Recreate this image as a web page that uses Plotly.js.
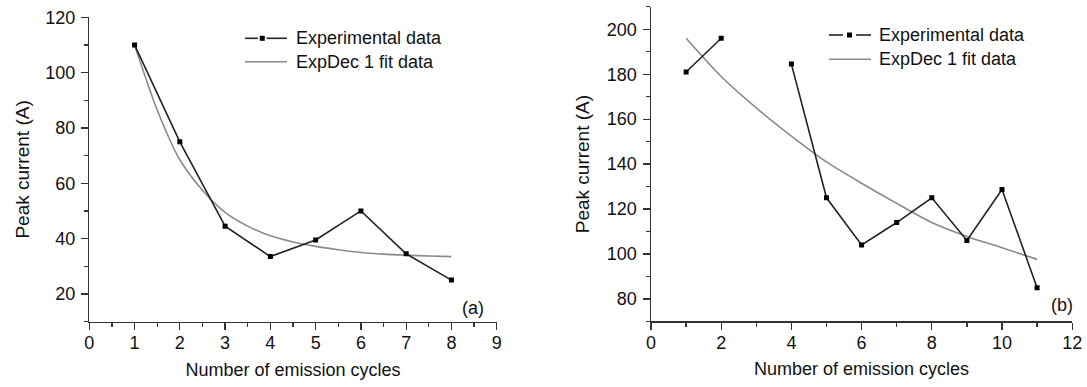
<!DOCTYPE html>
<html>
<head>
<meta charset="utf-8">
<script src="https://cdn.plot.ly/plotly-3.0.1.min.js"></script>
<style>html,body{margin:0;padding:0;background:#fff;}#chart{width:1087px;height:387px;}</style>
</head>
<body>
<div id="chart"></div>
<script>
// Panel (a)
const cyclesA = [1, 2, 3, 4, 5, 6, 7, 8];
const expA = [110, 75, 44.5, 33.5, 39.5, 50, 34.5, 25];
const fitXA = [1, 1.5, 2, 2.5, 3, 3.5, 4, 4.5, 5, 5.5, 6, 6.5, 7, 7.5, 8];
const fitA = [110, 86.5, 68.5, 57.5, 49.5, 44.5, 41, 38.8, 37.2, 36, 35, 34.4, 34, 33.7, 33.5];

// Panel (b)
const cyclesB = [1, 2, 3, 4, 5, 6, 7, 8, 9, 10, 11];
const expB = [181, 196, null, 184.5, 125, 104, 114, 125, 106, 128.7, 85];
const fitXB = [1, 2, 3, 4, 5, 6, 7, 8, 9, 10, 11];
const fitB = [196, 179, 165, 152.5, 141, 131.5, 122.5, 114, 107.8, 102.8, 97.6];

const seriesNames = ["Experimental data", "ExpDec 1 fit data"];
const panelLabels = ["(a)", "(b)"];
const xTitle = "Number of emission cycles";
const yTitle = "Peak current (A)";

const FONT = "Liberation Sans, Arial, Helvetica, sans-serif";
const TXT = "#111111";
const EXP_COLOR = "#222222";
const FIT_COLOR = "#8a8a8a";
const expStyle = {color: EXP_COLOR, width: 1.6};
const fitStyle = {color: FIT_COLOR, width: 1.6};
const mk = {symbol: "square", size: 5, color: "#000000"};

const traces = [
  {x: fitXA, y: fitA, type: "scatter", mode: "lines", name: seriesNames[1], line: Object.assign({shape: "spline", smoothing: 0.8}, fitStyle), xaxis: "x", yaxis: "y"},
  {x: cyclesA, y: expA, type: "scatter", mode: "lines+markers", name: seriesNames[0], line: expStyle, marker: mk, xaxis: "x", yaxis: "y"},
  {x: fitXB, y: fitB, type: "scatter", mode: "lines", name: seriesNames[1], line: Object.assign({shape: "spline", smoothing: 0.8}, fitStyle), xaxis: "x2", yaxis: "y2"},
  {x: cyclesB, y: expB, type: "scatter", mode: "lines+markers", name: seriesNames[0], line: expStyle, marker: mk, connectgaps: false, xaxis: "x2", yaxis: "y2"}
];

const W = 1087, H = 387;
const px = v => v / W;
const py = v => 1 - v / H;

function xAx(domain, range, dtick, minorDtick, anchor) {
  return {
    domain: domain, range: range, dtick: dtick, tick0: 0, anchor: anchor,
    showgrid: false, zeroline: false, showline: true, linecolor: "#333", linewidth: 1.5,
    ticks: "outside", ticklen: 7, tickwidth: 1.3, tickcolor: "#333",
    minor: {dtick: minorDtick, ticks: "outside", ticklen: 4, tickwidth: 1.2, tickcolor: "#333", showgrid: false},
    tickfont: {family: FONT, size: 18, color: TXT},
    ticklabelstandoff: -3,
    title: {text: xTitle, font: {family: FONT, size: 18, color: TXT}, standoff: 11},
    fixedrange: true
  };
}
function yAx(domain, range, dtick, minorDtick, anchor, standoff) {
  return {
    domain: domain, range: range, dtick: dtick, tick0: 0, anchor: anchor,
    showgrid: false, zeroline: false, showline: true, linecolor: "#333", linewidth: 1.5,
    ticks: "outside", ticklen: 7, tickwidth: 1.3, tickcolor: "#333",
    minor: {dtick: minorDtick, ticks: "outside", ticklen: 4, tickwidth: 1.2, tickcolor: "#333", showgrid: false},
    tickfont: {family: FONT, size: 18, color: TXT},
    ticklabelstandoff: 2,
    title: {text: yTitle, font: {family: FONT, size: 19, color: TXT}, standoff: standoff},
    fixedrange: true
  };
}

// Manual legends (Origin-style sample: dash, marker, dash)
function legendItems(x0, rowY1, rowY2, dashA, dashB, mX, textX) {
  const shapes = [
    {type: "line", xref: "paper", yref: "paper", x0: px(x0), x1: px(dashA), y0: py(rowY1), y1: py(rowY1), line: {color: EXP_COLOR, width: 1.6}},
    {type: "line", xref: "paper", yref: "paper", x0: px(dashB), x1: px(x0 + 42), y0: py(rowY1), y1: py(rowY1), line: {color: EXP_COLOR, width: 1.6}},
    {type: "rect", xref: "paper", yref: "paper", x0: px(mX - 2.5), x1: px(mX + 2.5), y0: py(rowY1 + 2.5), y1: py(rowY1 - 2.5), fillcolor: "#000", line: {width: 0}},
    {type: "line", xref: "paper", yref: "paper", x0: px(x0), x1: px(x0 + 42), y0: py(rowY2), y1: py(rowY2), line: {color: FIT_COLOR, width: 1.6}}
  ];
  const ann = [
    {text: seriesNames[0], xref: "paper", yref: "paper", x: px(textX), y: py(rowY1), xanchor: "left", yanchor: "middle", showarrow: false, font: {family: FONT, size: 18, color: TXT}},
    {text: seriesNames[1], xref: "paper", yref: "paper", x: px(textX), y: py(rowY2), xanchor: "left", yanchor: "middle", showarrow: false, font: {family: FONT, size: 18, color: TXT}}
  ];
  return {shapes, ann};
}
const legA = legendItems(245, 38.3, 61.7, 258, 266.5, 262.3, 294);
const legB = legendItems(829, 35, 59.3, 843, 856, 849.5, 877);

const layout = {
  width: W, height: H,
  margin: {l: 0, r: 0, t: 0, b: 0},
  paper_bgcolor: "#fff", plot_bgcolor: "#fff",
  font: {family: FONT, size: 18, color: TXT},
  showlegend: false,
  xaxis: xAx([89.3 / W, 496.7 / W], [0, 9], 1, 0.5, "y"),
  yaxis: yAx([(H - 321.6) / H, (H - 17.3) / H], [10, 120], 20, 10, "x", 10),
  xaxis2: xAx([651 / W, 1072.2 / W], [0, 12], 2, 1, "y2"),
  yaxis2: yAx([(H - 321.4) / H, (H - 6.8) / H], [70, 210], 20, 10, "x2", 12),
  shapes: legA.shapes.concat(legB.shapes),
  annotations: legA.ann.concat(legB.ann).concat([
    {text: panelLabels[0], xref: "paper", yref: "paper", x: px(473.3), y: py(308), xanchor: "center", yanchor: "middle", showarrow: false, font: {family: FONT, size: 18, color: TXT}},
    {text: panelLabels[1], xref: "paper", yref: "paper", x: px(1061.7), y: py(305), xanchor: "center", yanchor: "middle", showarrow: false, font: {family: FONT, size: 18, color: TXT}}
  ])
};

Plotly.newPlot("chart", traces, layout, {displayModeBar: false, staticPlot: true});
</script>
</body>
</html>
